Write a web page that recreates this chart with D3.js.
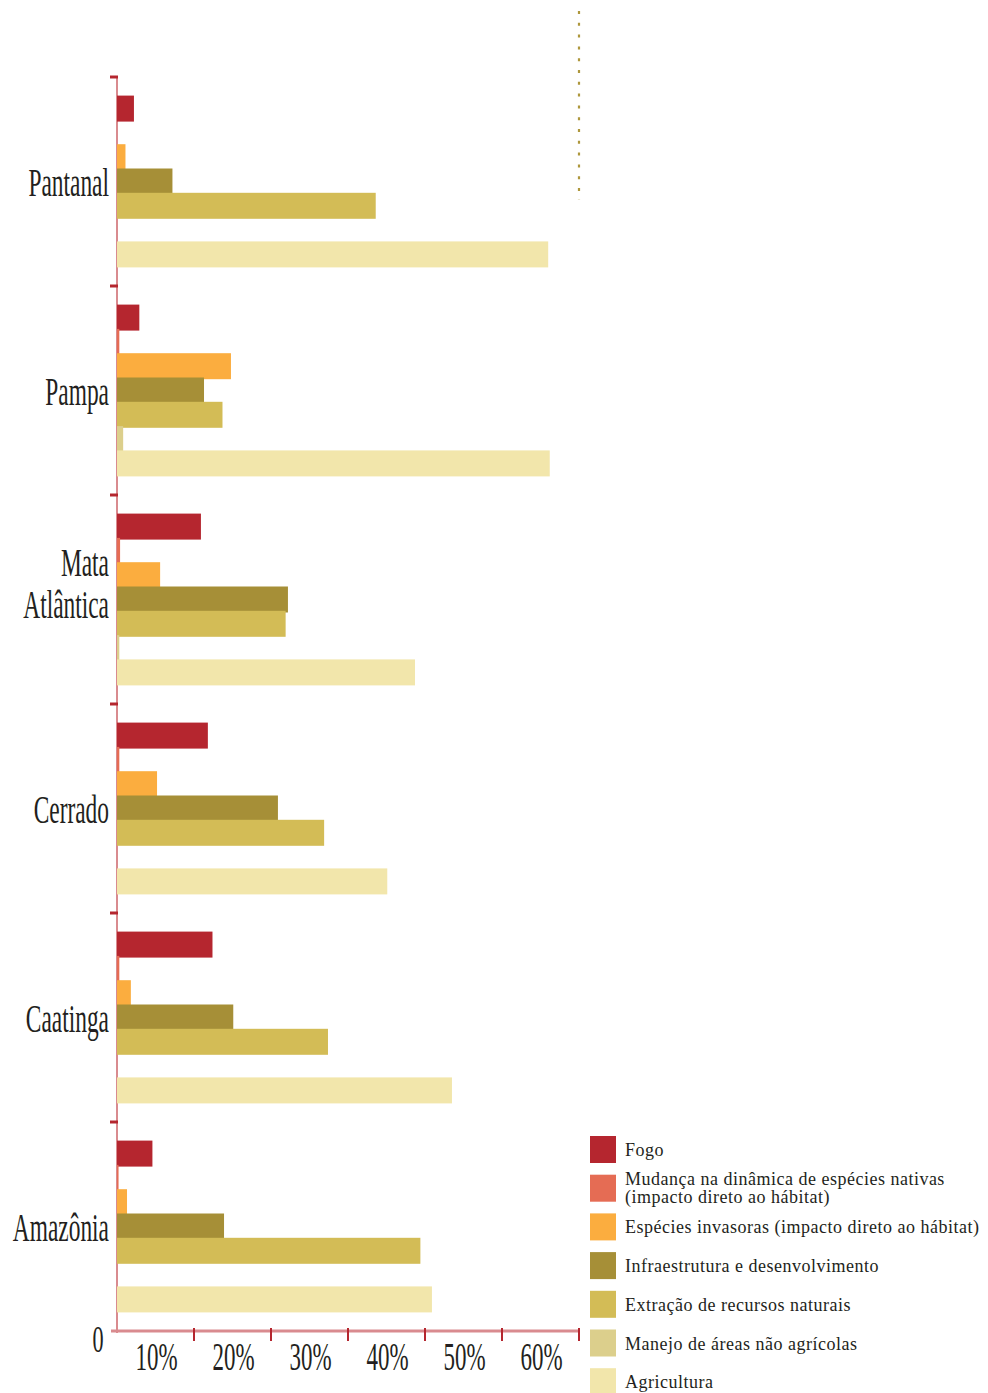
<!DOCTYPE html>
<html>
<head>
<meta charset="utf-8">
<script src="https://cdn.jsdelivr.net/npm/d3@7"></script>
<style>
  html, body { margin: 0; padding: 0; background: #ffffff; }
  svg { display: block; }
</style>
</head>
<body>
<script>
// ---- data ----
const categories = ["Pantanal", "Pampa", "Mata Atlântica", "Cerrado", "Caatinga", "Amazônia"];
const categoryLines = [["Pantanal"], ["Pampa"], ["Mata", "Atlântica"], ["Cerrado"], ["Caatinga"], ["Amazônia"]];
const seriesNames = [
  "Fogo",
  "Mudança na dinâmica de espécies nativas (impacto direto ao hábitat)",
  "Espécies invasoras (impacto direto ao hábitat)",
  "Infraestrutura e desenvolvimento",
  "Extração de recursos naturais",
  "Manejo de áreas não agrícolas",
  "Agricultura"
];
const legendLines = [
  ["Fogo"],
  ["Mudança na dinâmica de espécies nativas", "(impacto direto ao hábitat)"],
  ["Espécies invasoras (impacto direto ao hábitat)"],
  ["Infraestrutura e desenvolvimento"],
  ["Extração de recursos naturais"],
  ["Manejo de áreas não agrícolas"],
  ["Agricultura"]
];
const fogo        = [2.2, 2.9, 10.9, 11.8, 12.4, 4.6];
const mudanca     = [0, 0.3, 0.4, 0.3, 0.3, 0.2];
const especies    = [1.1, 14.8, 5.6, 5.2, 1.8, 1.3];
const infra       = [7.2, 11.3, 22.2, 20.9, 15.1, 13.9];
const extracao    = [33.6, 13.7, 21.9, 26.9, 27.4, 39.4];
const manejo      = [0, 0.8, 0.3, 0, 0, 0];
const agricultura = [56.0, 56.2, 38.7, 35.1, 43.5, 40.9];
const seriesValues = [fogo, mudanca, especies, infra, extracao, manejo, agricultura];
const seriesColors = ["#b5262f", "#e56c54", "#fbad3f", "#a68f37", "#d3bc56", "#dccf8c", "#f2e6ab"];
const tickValues = [10, 20, 30, 40, 50, 60];
const tickLabels = ["10%", "20%", "30%", "40%", "50%", "60%"];

// ---- layout ----
const W = 988, H = 1393;
const svg = d3.select("body").append("svg").attr("width", W).attr("height", H);

const x = d3.scaleLinear().domain([0, 60]).range([117, 579]);
const yGroup = d3.scaleBand().domain(categories).range([77, 1331]).paddingInner(0).paddingOuter(0);
const yInner = d3.scalePoint().domain(d3.range(seriesNames.length)).range([0, yGroup.bandwidth()]).padding(1.3);
const barH = 26;

const axisLight = "#d98b8f";
const axisDark = "#b5262f";
const textColor = "#231f20";
const serif = "'Liberation Serif', 'DejaVu Serif', serif";

// dotted reference line at top
svg.append("line")
  .attr("x1", x(60)).attr("x2", x(60))
  .attr("y1", 11).attr("y2", 200)
  .attr("stroke", "#ae973c").attr("stroke-width", 2.2)
  .attr("stroke-dasharray", "3,8.8");

// y axis line
svg.append("line")
  .attr("x1", x(0)).attr("x2", x(0))
  .attr("y1", yGroup.range()[0]).attr("y2", yGroup.range()[1] + 2)
  .attr("stroke", axisLight).attr("stroke-width", 2);

// group separator ticks
svg.selectAll("line.gtick").data(categories).enter().append("line")
  .attr("class", "gtick")
  .attr("x1", x(0) - 7).attr("x2", x(0) + 1)
  .attr("y1", d => yGroup(d)).attr("y2", d => yGroup(d))
  .attr("stroke", axisDark).attr("stroke-width", 3);

// bars
categories.forEach((cat, ci) => {
  const g = svg.append("g");
  seriesValues.forEach((vals, si) => {
    const v = vals[ci];
    if (v <= 0) return;
    g.append("rect")
      .attr("x", x(0))
      .attr("y", yGroup(cat) + yInner(si) - barH / 2)
      .attr("width", Math.max(0, x(v) - x(0)))
      .attr("height", barH)
      .attr("fill", seriesColors[si]);
  });
});

// category labels
const catG = svg.append("g");
categories.forEach((cat, ci) => {
  const lines = categoryLines[ci];
  const cy = yGroup(cat) + yGroup.bandwidth() / 2;
  const lh = 42;
  const base0 = lines.length === 1 ? cy + 14 : cy - 3 - (lines.length - 1) * lh / 2;
  lines.forEach((ln, li) => {
    catG.append("text")
      .attr("transform", `translate(109,${base0 + li * lh}) scale(0.6,1)`)
      .attr("text-anchor", "end")
      .attr("font-family", serif)
      .attr("font-size", 39)
      .attr("fill", textColor)
      .text(ln);
  });
});

// x axis
const yAxis = 1331;
svg.append("line")
  .attr("x1", 111).attr("x2", x(60))
  .attr("y1", yAxis).attr("y2", yAxis)
  .attr("stroke", axisLight).attr("stroke-width", 3);
svg.selectAll("line.xtick").data(tickValues).enter().append("line")
  .attr("class", "xtick")
  .attr("x1", d => x(d)).attr("x2", d => x(d))
  .attr("y1", yAxis - 3).attr("y2", yAxis + 10)
  .attr("stroke", axisDark).attr("stroke-width", 2);
const step = x(10) - x(0);
tickValues.forEach((t, i) => {
  svg.append("text")
    .attr("transform", `translate(${x(t) - step / 2 + 1},1370) scale(0.56,1)`)
    .attr("text-anchor", "middle")
    .attr("font-family", serif)
    .attr("font-size", 41)
    .attr("fill", textColor)
    .text(tickLabels[i]);
});
svg.append("text")
  .attr("transform", `translate(98,1352) scale(0.6,1)`)
  .attr("text-anchor", "middle")
  .attr("font-family", serif)
  .attr("font-size", 37)
  .attr("fill", textColor)
  .text("0");

// legend
const lg = svg.append("g");
const legTop = 1136, legStep = 38.7;
seriesNames.forEach((name, i) => {
  const top = legTop + i * legStep;
  lg.append("rect")
    .attr("x", 590).attr("y", top)
    .attr("width", 26).attr("height", 27)
    .attr("fill", seriesColors[i]);
  const lines = legendLines[i];
  lines.forEach((ln, li) => {
    const base = lines.length === 1 ? top + 20 : top + 10.5 + li * 17.5;
    lg.append("text")
      .attr("x", 625).attr("y", base)
      .attr("font-family", serif)
      .attr("font-size", 18)
      .attr("letter-spacing", 0.5)
      .attr("fill", textColor)
      .text(ln);
  });
});
</script>
</body>
</html>
